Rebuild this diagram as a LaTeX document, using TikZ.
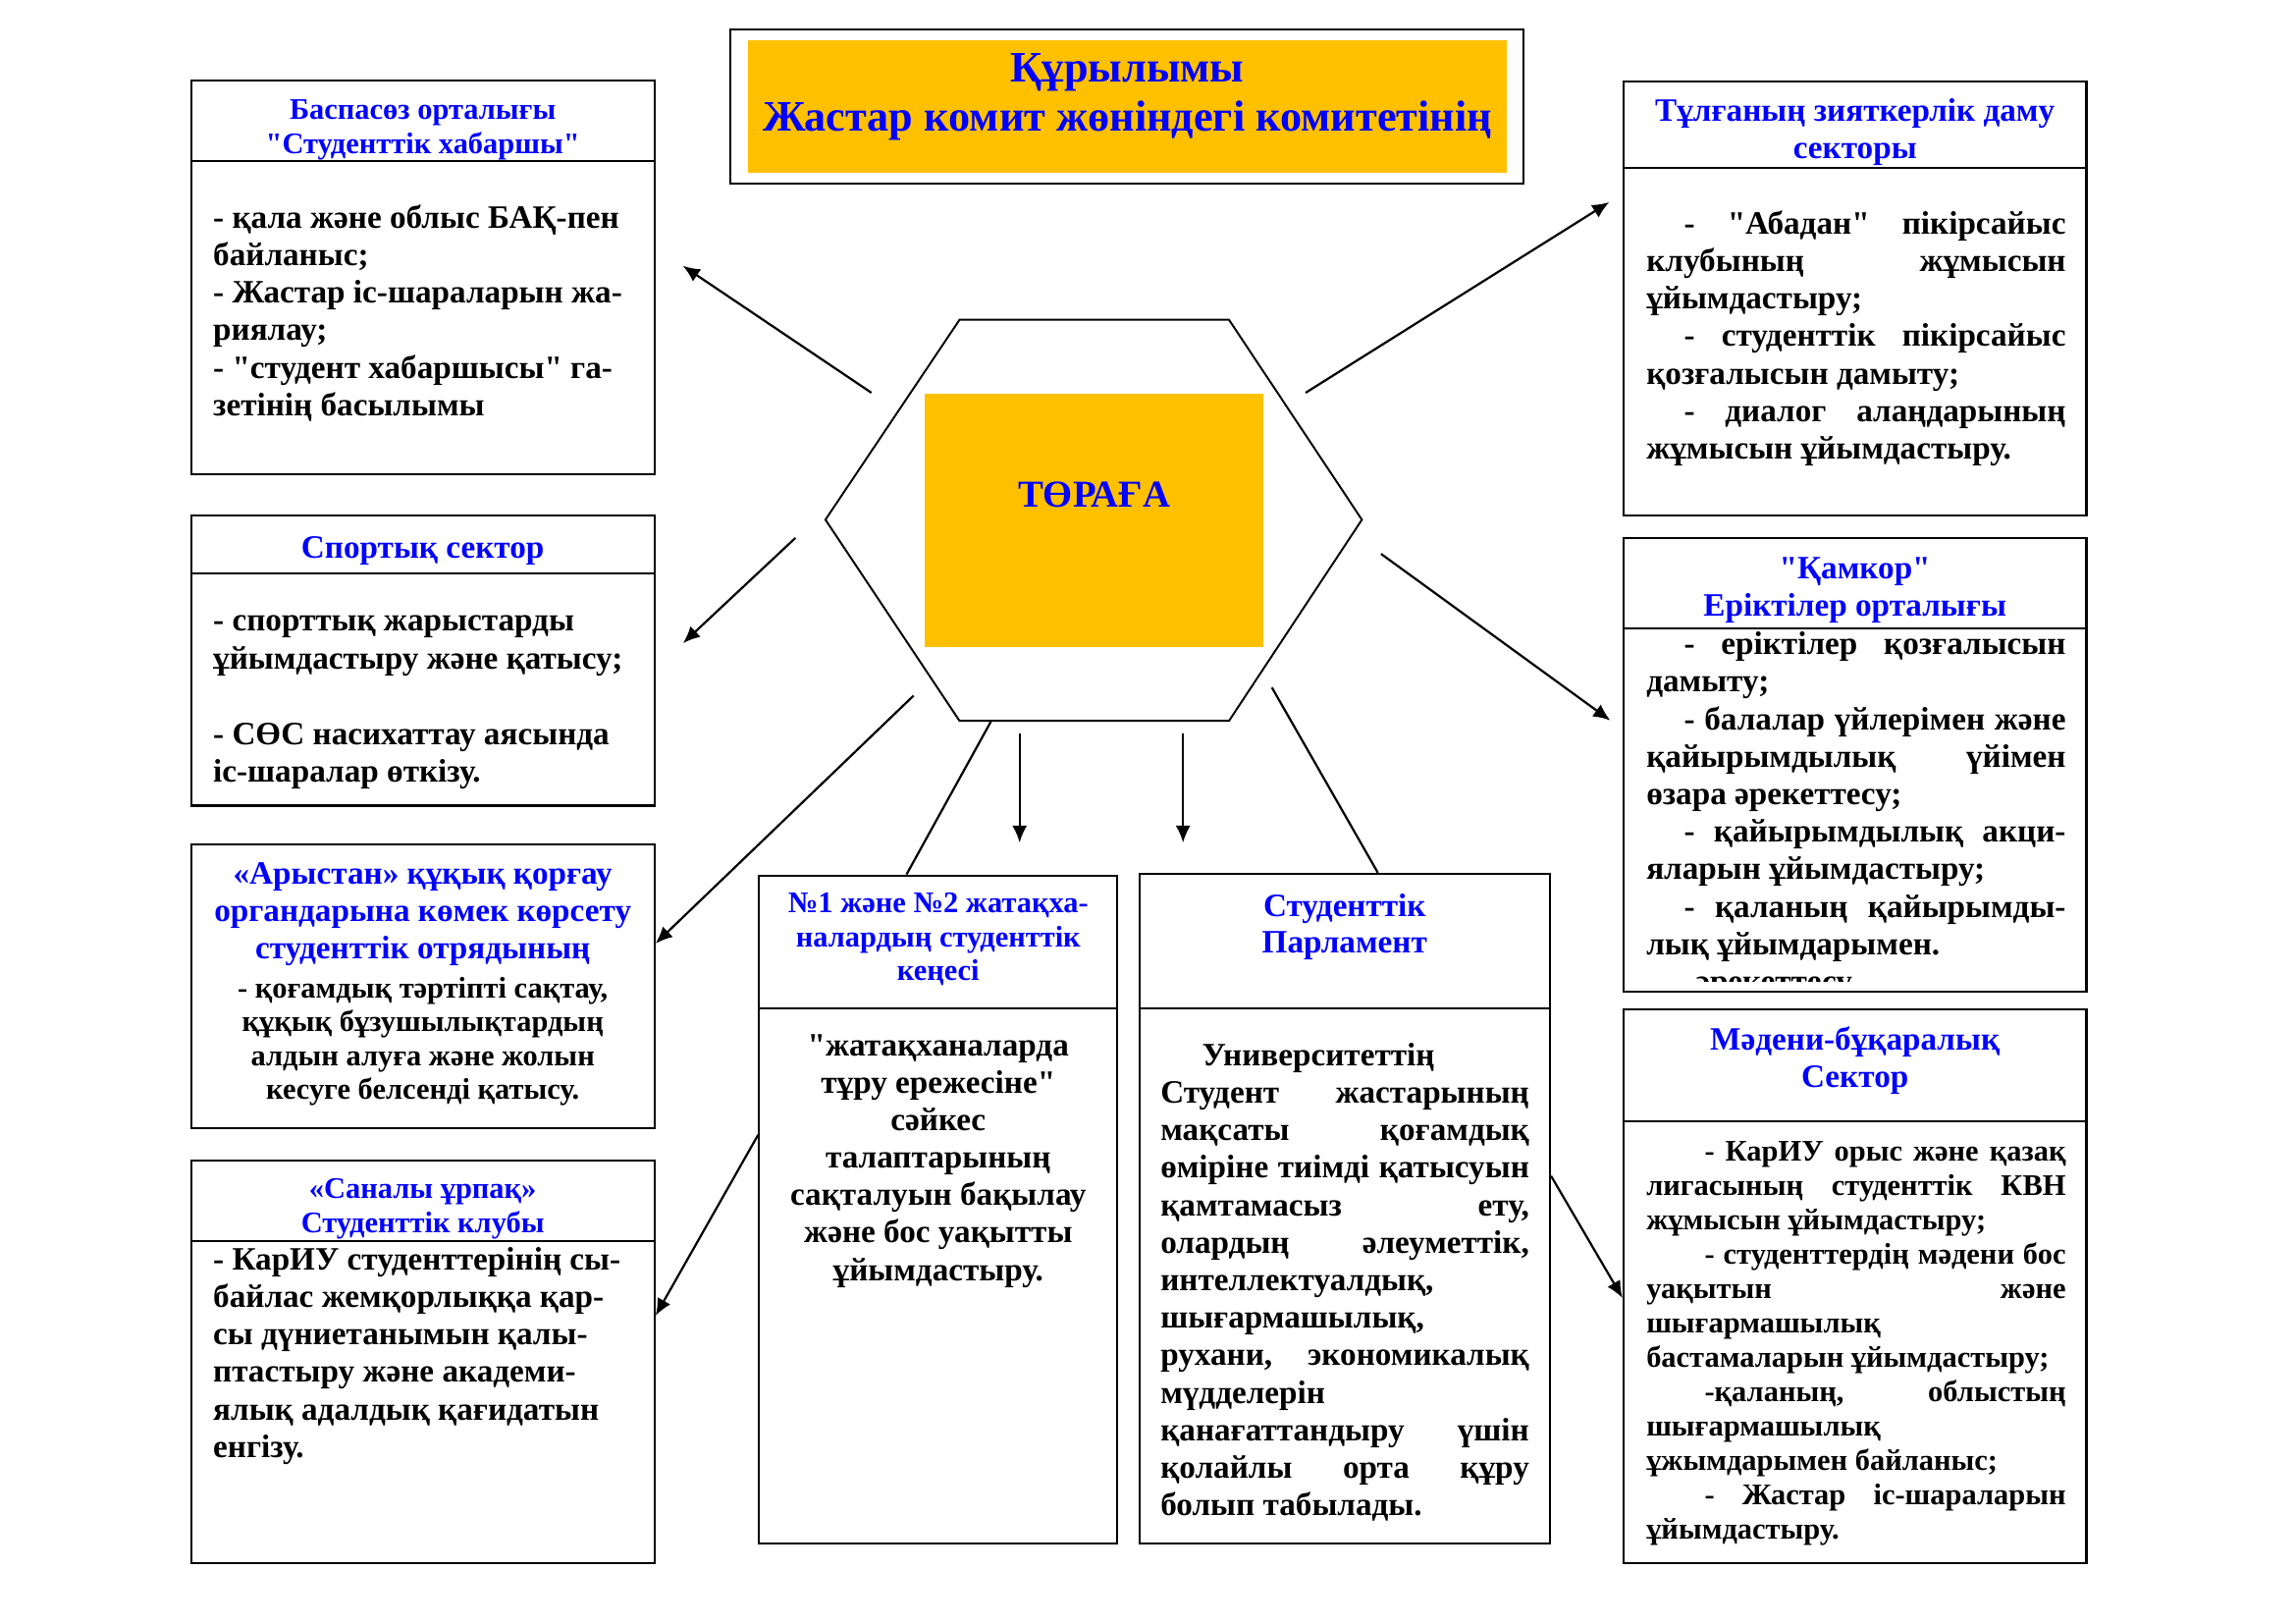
\documentclass[tikz,border=0pt]{standalone}
\usepackage{fontspec}
\setmainfont{Liberation Serif}[Ligatures=TeXOff]
\usetikzlibrary{arrows.meta,fit}
\definecolor{gold}{HTML}{FFC000}
\definecolor{hblue}{RGB}{0,0,255}
\newlength\jw
\newcommand\jl[1]{{\spaceskip=0pt\xspaceskip=0pt\makebox[\jw][s]{#1}}}
\newcommand\fsz[2]{\fontsize{#1}{#2}\selectfont}
\newcommand\ia{\hspace*{4.87mm}}
\newcommand\ib{\hspace*{7.53mm}}
\newcommand\ic{\hspace*{5.37mm}}
\begin{document}
\begin{tikzpicture}[x=0.126977mm, y=-0.126977mm,
  box/.style={draw, line width=0.8pt, inner sep=0pt},
  sepl/.style={line width=0.8pt},
  hd/.style={text=hblue, font=\bfseries\fsz{12}{13.8}, align=flush center, anchor=base, inner sep=0pt, text width=56mm},
  bd/.style={font=\bfseries\fsz{12}{13.8}, align=flush left, anchor=base west, inner sep=0pt, text width=60mm},
  arr/.style={line width=0.8pt, -{Latex[length=2.2mm,width=1.9mm]}},
  ln/.style={line width=0.8pt}]
\useasboundingbox (0,0) rectangle (2339,1654);

% title
\node[draw, line width=1pt, inner sep=0pt, fit={(744,30) (1552,187)}] (tbox) {};
\node[fill=gold, inner sep=0pt, fit={(762,40.7) (1535,175.7)}] (tfill) {};
\node[hd, font=\bfseries\fsz{16}{18}, text width=105mm] (title) at (1148.6,83.3) {Құрылымы\\Жастар комит жөніндегі комитетінің};

% boxes
\node[box, fit={(194.8,82.3) (666.7,483)}] (bsp) {};
\draw[sepl] (bsp.west |- 0,164) -- (bsp.east |- 0,164);
\node[box, fit={(194.8,525) (666.7,820.4)}] (sport) {};
\draw[sepl] (sport.west |- 0,584.3) -- (sport.east |- 0,584.3);
\node[box, fit={(194.8,860) (666.7,1149)}] (arys) {};
\node[box, fit={(194.8,1181.7) (666.7,1592)}] (sanaly) {};
\draw[sepl] (sanaly.west |- 0,1264) -- (sanaly.east |- 0,1264);
\node[box, fit={(773.3,891.7) (1138.3,1572.3)}] (dorm) {};
\draw[sepl] (dorm.west |- 0,1026.7) -- (dorm.east |- 0,1026.7);
\node[box, fit={(1160.7,890) (1579,1572.3)}] (parl) {};
\draw[sepl] (parl.west |- 0,1027.3) -- (parl.east |- 0,1027.3);
\node[box, fit={(1654,82.7) (2125.5,525)}] (tulga) {};
\draw[sepl] (tulga.west |- 0,171) -- (tulga.east |- 0,171);
\node[box, fit={(1654,548.3) (2125.5,1010)}] (kamkor) {};
\draw[sepl] (kamkor.west |- 0,640) -- (kamkor.east |- 0,640);
\node[box, fit={(1654,1027.7) (2125.5,1592.1)}] (madeni) {};
\draw[sepl] (madeni.west |- 0,1141.7) -- (madeni.east |- 0,1141.7);

% hexagon
\coordinate (h1) at (840.9,529.3);
\coordinate (h2) at (977.5,325.7);
\coordinate (h3) at (1252,325.7);
\coordinate (h4) at (1387.4,529.3);
\coordinate (h5) at (1252,734.2);
\coordinate (h6) at (977.5,734.2);
\draw[line width=0.7pt] (h1) -- (h2) -- (h3) -- (h4) -- (h5) -- (h6) -- cycle;
\node[fill=gold, inner sep=0pt, fit={(942.4,400.8) (1287.2,659)}] (chair) {};
\node[text=hblue, font=\bfseries\fsz{14}{16}, anchor=base, inner sep=0pt] (chairt) at (1114.8,516.7) {ТӨРАҒА};

% connectors
\coordinate (a1s) at (887.7,400);   \coordinate (a1e) at (695.6,270.7);
\coordinate (a2s) at (1330.1,400);  \coordinate (a2e) at (1639.4,205.9);
\coordinate (a3s) at (810.3,547.9); \coordinate (a3e) at (695.8,655.1);
\coordinate (a4s) at (930.7,708.5);
\coordinate (l5s) at (1009.4,735);
\coordinate (d1s) at (1038.7,746.8); \coordinate (d1e) at (1038.7,858.3);
\coordinate (d2s) at (1205.2,746.8); \coordinate (d2e) at (1205.2,858.3);
\coordinate (l6s) at (1295.7,700.2);
\coordinate (a7s) at (1406.9,564.1); \coordinate (a7e) at (1640.5,733.8);
\draw[arr] (a1s) -- (a1e);
\draw[arr] (a2s) -- (a2e);
\draw[arr] (a3s) -- (a3e);
\draw[arr] (a4s) -- (arys.east |- 0,961);
\draw[ln] (l5s) -- (dorm.north -| 923.5,0);
\draw[arr] (d1s) -- (d1e);
\draw[arr] (d2s) -- (d2e);
\draw[ln] (l6s) -- (parl.north -| 1403.7,0);
\draw[arr] (a7s) -- (a7e);
\draw[arr] (dorm.west |- 0,1156) -- (sanaly.east |- 0,1340);
\draw[arr] (parl.east |- 0,1197.7) -- (madeni.west |- 0,1322);

% Baspasoz
\node[hd, font=\bfseries\fsz{11}{12.6}] (bsph) at (430.7,121.7) {Баспасөз орталығы\\"Студенттік хабаршы"};
\node[bd] (bspb) at (216.6,232.3) {- қала және облыс БАҚ-пен\\байланыс;\\- Жастар іс-шараларын жа-\\риялау;\\- "студент хабаршысы" га-\\зетінің басылымы};

% Sport
\node[hd] (sph) at (430.7,568.4) {Спортық сектор};
\node[bd, font=\bfseries\fsz{12}{13.9}] (spb) at (216.6,643) {- спорттық жарыстарды\\ұйымдастыру және қатысу;\\\mbox{}\\- СӨС насихаттау аясында\\іс-шаралар өткізу.};

% Arystan
\node[hd, font=\bfseries\fsz{12}{13.7}, text width=62mm] (arh) at (430.7,901) {«Арыстан» құқық қорғау\\органдарына көмек көрсету\\студенттік отрядының};
\node[hd, text=black, font=\bfseries\fsz{11}{12.5}, text width=62mm] (arb) at (430.7,1016) {- қоғамдық тәртіпті сақтау,\\құқық бұзушылықтардың\\алдын алуға және жолын\\кесуге белсенді қатысу.};

% Sanaly
\node[hd, font=\bfseries\fsz{11}{12.4}] (snh) at (430.7,1220.7) {«Саналы ұрпақ»\\Студенттік клубы};
\node[bd] (snb) at (216.6,1293.3) {- КарИУ студенттерінің сы-\\байлас жемқорлыққа қар-\\сы дүниетанымын қалы-\\птастыру және академи-\\ялық адалдық қағидатын\\енгізу.};

% Dormitory council
\node[hd, font=\bfseries\fsz{11}{12.35}, text width=45mm] (dmh) at (955.8,930) {№1 және №2 жатақха-\\налардың студенттік\\кеңесі};
\node[hd, text=black, text width=45mm] (dmb) at (955.8,1075) {"жатақханаларда\\тұру ережесіне"\\сәйкес\\талаптарының\\сақталуын бақылау\\және бос уақытты\\ұйымдастыру.};

% Parliament
\node[hd, font=\bfseries\fsz{12}{13.4}, text width=45mm] (plh) at (1369.8,933.2) {Студенттік\\Парламент};
\node[bd, text width=47.7mm] (plb) at (1181.7,1085.3) {\setlength{\jw}{47.7mm}\ic Университеттің\\\jl{Студент жастарының}\\\jl{мақсаты қоғамдық}\\\jl{өміріне тиімді қатысуын}\\\jl{қамтамасыз ету,}\\\jl{олардың әлеуметтік,}\\интеллектуалдық,\\шығармашылық,\\\jl{рухани, экономикалық}\\мүдделерін\\\jl{қанағаттандыру үшін}\\\jl{қолайлы орта құру}\\болып табылады.};

% Tulga
\node[hd, font=\bfseries\fsz{12}{13.9}] (tlh) at (1889.7,123.3) {Тұлғаның зияткерлік даму\\секторы};
\node[bd, text width=54.26mm] (tlb) at (1676.7,238.3) {\setlength{\jw}{54.26mm}\jl{\ia- "Абадан" пікірсайыс}\\\jl{клубының жұмысын}\\ұйымдастыру;\\\jl{\ia- студенттік пікірсайыс}\\қозғалысын дамыту;\\\jl{\ia- диалог алаңдарының}\\жұмысын ұйымдастыру.};

% Kamkor
\node[hd, font=\bfseries\fsz{12}{13.5}] (kmh) at (1889.7,590) {"Қамкор"\\Еріктілер орталығы};
\begin{scope}
\clip (1654,641) rectangle (2125.5,1000);
\node[bd, text width=54.26mm] (kmb) at (1676.7,666.7) {\setlength{\jw}{54.26mm}\jl{\ia- еріктілер қозғалысын}\\дамыту;\\\jl{\ia- балалар үйлерімен және}\\\jl{қайырымдылық үйімен}\\өзара әрекеттесу;\\\jl{\ia- қайырымдылық акци-}\\яларын ұйымдастыру;\\\jl{\ia- қаланың қайырымды-}\\лық ұйымдарымен.\\\hspace*{6.35mm}әрекеттесу};
\end{scope}

% Madeni
\node[hd, font=\bfseries\fsz{12}{13.5}] (mdh) at (1889.7,1069.8) {Мәдени-бұқаралық\\Сектор};
\node[bd, font=\bfseries\fsz{11}{12.63}, text width=54.26mm] (mdb) at (1676.7,1182.6) {\setlength{\jw}{54.26mm}\jl{\ib- КарИУ орыс және қазақ}\\\jl{лигасының студенттік КВН}\\жұмысын ұйымдастыру;\\\jl{\ib- студенттердің мәдени бос}\\\jl{уақытын және}\\шығармашылық\\бастамаларын ұйымдастыру;\\\jl{\ib-қаланың, облыстың}\\шығармашылық\\ұжымдарымен байланыс;\\\jl{\ib- Жастар іс-шараларын}\\ұйымдастыру.};
\end{tikzpicture}
\end{document}
